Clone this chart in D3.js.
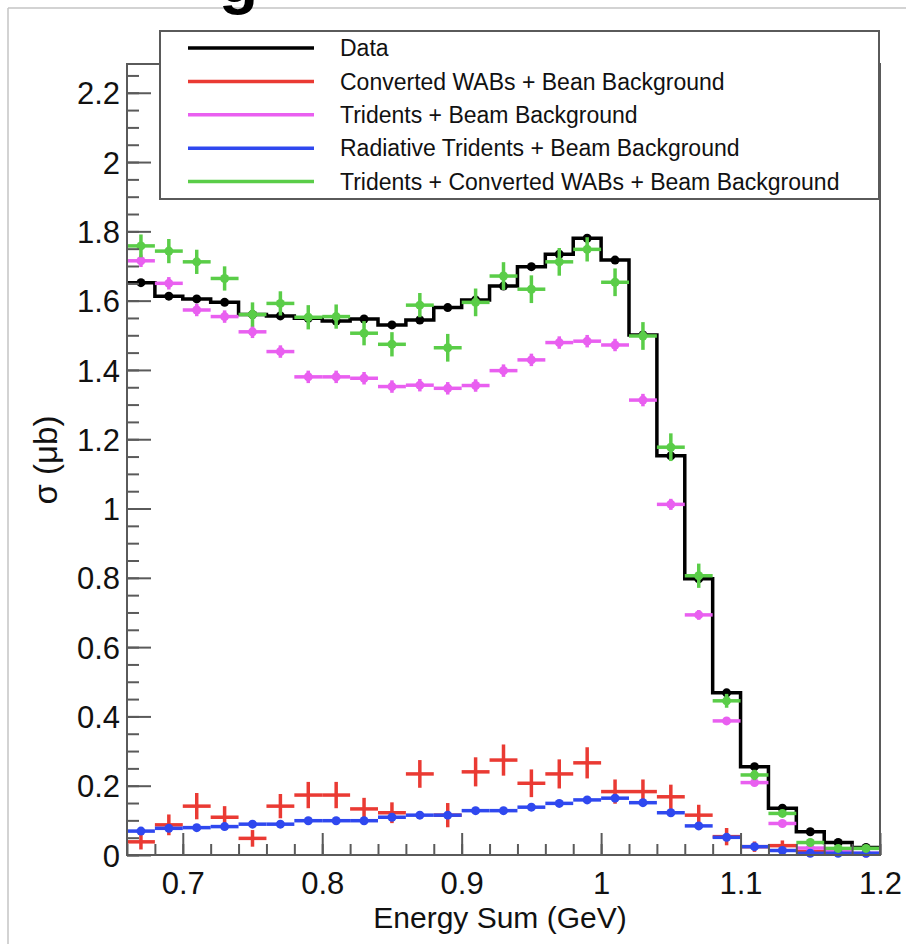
<!DOCTYPE html>
<html>
<head>
<meta charset="utf-8">
<script src="https://cdn.jsdelivr.net/npm/d3@7"></script>
<style>
  body { margin: 0; background: #fff; }
  svg { display: block; font-family: "Liberation Sans", Arial, Helvetica, sans-serif; }
</style>
</head>
<body>
<svg id="main_svg" width="906" height="944"></svg>
<script>
// bin centres (GeV), bin width 0.02
var energy = [0.67, 0.69, 0.71, 0.73, 0.75, 0.77, 0.79, 0.81, 0.83, 0.85, 0.87, 0.89, 0.91, 0.93,
              0.95, 0.97, 0.99, 1.01, 1.03, 1.05, 1.07, 1.09, 1.11, 1.13, 1.15, 1.17, 1.19];
var binWidth = 0.02;

// cross sections (ub)
var dataVals = [1.652, 1.613, 1.605, 1.595, 1.560, 1.556, 1.549, 1.541, 1.547, 1.530, 1.544, 1.580, 1.602, 1.642,
                1.698, 1.734, 1.780, 1.717, 1.501, 1.152, 0.797, 0.468, 0.255, 0.135, 0.067, 0.036, 0.022];
var wabVals = [0.038, 0.087, 0.141, 0.109, 0.048, 0.141, 0.173, 0.173, 0.133, 0.122, 0.234, 0.115, 0.240, 0.274,
               0.207, 0.234, 0.266, 0.183, 0.183, 0.168, 0.115, 0.053, 0.024, 0.027, 0.010, 0.005, 0.003];
var wabErr = [0.022, 0.030, 0.038, 0.032, 0.024, 0.035, 0.038, 0.038, 0.032, 0.030, 0.040, 0.035, 0.042, 0.045,
              0.040, 0.042, 0.045, 0.035, 0.035, 0.035, 0.030, 0.025, 0.015, 0.015, 0.010, 0.005, 0.005];
var tridVals = [1.715, 1.650, 1.573, 1.554, 1.510, 1.453, 1.380, 1.380, 1.376, 1.352, 1.356, 1.347, 1.355, 1.398,
                1.429, 1.479, 1.483, 1.472, 1.313, 1.012, 0.693, 0.387, 0.209, 0.091, 0.020, 0.010, 0.005];
var tridErr = [0.018, 0.018, 0.018, 0.018, 0.018, 0.018, 0.018, 0.018, 0.018, 0.018, 0.018, 0.018, 0.018, 0.018,
               0.018, 0.018, 0.018, 0.018, 0.018, 0.016, 0.014, 0.010, 0.008, 0.006, 0.004, 0.003, 0.002];
var radVals = [0.069, 0.077, 0.079, 0.082, 0.089, 0.089, 0.099, 0.099, 0.099, 0.109, 0.115, 0.115, 0.128, 0.128,
               0.138, 0.149, 0.159, 0.164, 0.151, 0.122, 0.084, 0.051, 0.024, 0.013, 0.005, 0.005, 0.005];
var radErr = [0.005, 0.005, 0.005, 0.005, 0.005, 0.005, 0.005, 0.005, 0.005, 0.005, 0.005, 0.005, 0.005, 0.005,
              0.005, 0.005, 0.005, 0.005, 0.005, 0.005, 0.004, 0.004, 0.003, 0.002, 0.002, 0.002, 0.002];
var sumVals = [1.758, 1.743, 1.712, 1.664, 1.560, 1.592, 1.552, 1.554, 1.506, 1.474, 1.587, 1.464, 1.595, 1.671,
               1.633, 1.712, 1.748, 1.653, 1.498, 1.177, 0.806, 0.445, 0.231, 0.120, 0.036, 0.019, 0.019];
var sumErr = [0.033, 0.035, 0.035, 0.035, 0.035, 0.035, 0.035, 0.035, 0.035, 0.035, 0.035, 0.040, 0.040, 0.040,
              0.040, 0.040, 0.035, 0.040, 0.040, 0.040, 0.035, 0.020, 0.015, 0.010, 0.008, 0.005, 0.005];

var xTickLabels = [0.7, 0.8, 0.9, 1, 1.1, 1.2];
var yTickLabels = [0, 0.2, 0.4, 0.6, 0.8, 1, 1.2, 1.4, 1.6, 1.8, 2, 2.2];

var legendNames = ["Data", "Converted WABs + Bean Background", "Tridents + Beam Background",
                   "Radiative Tridents + Beam Background", "Tridents + Converted WABs + Beam Background"];
var legendColors = ["#000000", "#ea3a33", "#e95ff0", "#2f48ef", "#5acd48"];

var svg = d3.select("#main_svg");

var x = d3.scaleLinear().domain([0.66, 1.2]).range([127, 880]);
var y = d3.scaleLinear().domain([0, 2.283]).range([855, 64]);

// picture border (cut off at right/bottom)
svg.append("line").attr("x1", 8).attr("y1", 8).attr("x2", 906).attr("y2", 8)
    .attr("stroke", "#c4c4c4").attr("stroke-width", 1.5);
svg.append("line").attr("x1", 8).attr("y1", 8).attr("x2", 8).attr("y2", 944)
    .attr("stroke", "#c4c4c4").attr("stroke-width", 1.5);

// cut-off title letter
svg.append("text")
    .attr("x", 219).attr("y", 2)
    .attr("font-size", 64).attr("font-weight", "bold")
    .attr("fill", "#000")
    .text("g");

// data histogram as steps
var stepPts = [];
energy.forEach(function(e, i) {
    stepPts.push([e - binWidth / 2, dataVals[i]]);
    stepPts.push([e + binWidth / 2, dataVals[i]]);
});
var stepLine = d3.line()
    .x(function(d) { return x(d[0]); })
    .y(function(d) { return y(d[1]); });

svg.append("path")
    .datum(stepPts)
    .attr("d", stepLine)
    .attr("fill", "none")
    .attr("stroke", "#000")
    .attr("stroke-width", 3.5);

svg.append("g")
    .selectAll("circle")
    .data(dataVals)
    .enter()
    .append("circle")
    .attr("cx", function(d, i) { return x(energy[i]); })
    .attr("cy", function(d) { return y(d); })
    .attr("r", 4.5)
    .attr("fill", "#000");

// error-bar crosses
function drawCrosses(vals, errs, color, withDot) {
    var g = svg.append("g");
    var rows = vals.map(function(v, i) { return { e: energy[i], v: v, err: errs[i] }; });

    g.selectAll("line.h")
        .data(rows)
        .enter()
        .append("line")
        .attr("class", "h")
        .attr("x1", function(d) { return x(d.e - binWidth / 2); })
        .attr("x2", function(d) { return x(d.e + binWidth / 2); })
        .attr("y1", function(d) { return y(d.v); })
        .attr("y2", function(d) { return y(d.v); })
        .attr("stroke", color)
        .attr("stroke-width", 3.5);

    g.selectAll("line.v")
        .data(rows)
        .enter()
        .append("line")
        .attr("class", "v")
        .attr("x1", function(d) { return x(d.e); })
        .attr("x2", function(d) { return x(d.e); })
        .attr("y1", function(d) { return y(d.v - d.err); })
        .attr("y2", function(d) { return y(d.v + d.err); })
        .attr("stroke", color)
        .attr("stroke-width", 3.5);

    if (withDot) {
        g.selectAll("circle")
            .data(rows)
            .enter()
            .append("circle")
            .attr("cx", function(d) { return x(d.e); })
            .attr("cy", function(d) { return y(d.v); })
            .attr("r", 4.5)
            .attr("fill", color);
    }
}

drawCrosses(wabVals, wabErr, legendColors[1], false);
drawCrosses(tridVals, tridErr, legendColors[2], true);
drawCrosses(radVals, radErr, legendColors[3], true);
drawCrosses(sumVals, sumErr, legendColors[4], true);

// axes, ticks pointing inward
var frameColor = "#5a5a5a";

var yMinor = svg.append("g")
    .attr("transform", "translate(127,0)")
    .call(d3.axisLeft(y).tickValues(d3.range(0, 2.26, 0.05)).tickSize(-12).tickFormat(""));
var yMajor = svg.append("g")
    .attr("transform", "translate(127,0)")
    .call(d3.axisLeft(y).tickValues(yTickLabels).tickSize(-24).tickPadding(7)
        .tickFormat(function(d) { return String(d); }));

var xMinor = svg.append("g")
    .attr("transform", "translate(0,855)")
    .call(d3.axisBottom(x).tickValues(d3.range(0.66, 1.201, 0.02)).tickSize(-11).tickFormat(""));
var xMajor = svg.append("g")
    .attr("transform", "translate(0,855)")
    .call(d3.axisBottom(x).tickValues(xTickLabels).tickSize(-22).tickPadding(0)
        .tickFormat(function(d) { return String(d); }));

[yMinor, yMajor, xMinor, xMajor].forEach(function(a) {
    a.select(".domain").remove();
    a.selectAll(".tick line").attr("stroke", frameColor).attr("stroke-width", 2);
    a.selectAll(".tick text").attr("fill", "#111").attr("font-size", 31)
        .attr("font-family", "'Liberation Sans', Arial, Helvetica, sans-serif");
});
xMajor.selectAll(".tick text").attr("dy", null).attr("y", 39);
yMajor.selectAll(".tick text").attr("dy", "0.36em");

// frame
svg.append("rect")
    .attr("x", 127).attr("y", 64)
    .attr("width", 880 - 127).attr("height", 855 - 64)
    .attr("fill", "none")
    .attr("stroke", frameColor)
    .attr("stroke-width", 2);

// axis titles
svg.append("text")
    .attr("x", 500).attr("y", 928)
    .attr("text-anchor", "middle")
    .attr("font-size", 30)
    .attr("fill", "#111")
    .text("Energy Sum (GeV)");

svg.append("text")
    .attr("transform", "translate(57,460) rotate(-90)")
    .attr("text-anchor", "middle")
    .attr("font-size", 33)
    .attr("fill", "#111")
    .text("σ (μb)");

// legend
var legend = svg.append("g");
legend.append("rect")
    .attr("x", 160).attr("y", 31)
    .attr("width", 879 - 160).attr("height", 199 - 31)
    .attr("fill", "#fff")
    .attr("stroke", frameColor)
    .attr("stroke-width", 2);

var entries = legend.selectAll("g.entry")
    .data(legendNames)
    .enter()
    .append("g")
    .attr("class", "entry")
    .attr("transform", function(d, i) { return "translate(0," + (48 + i * 33.4) + ")"; });

entries.append("line")
    .attr("x1", 188).attr("x2", 314)
    .attr("y1", 0).attr("y2", 0)
    .attr("stroke", function(d, i) { return legendColors[i]; })
    .attr("stroke-width", 3.5);

entries.append("text")
    .attr("x", 340)
    .attr("dy", "0.36em")
    .attr("font-size", 23)
    .attr("fill", "#111")
    .text(function(d) { return d; });
</script>
</body>
</html>
